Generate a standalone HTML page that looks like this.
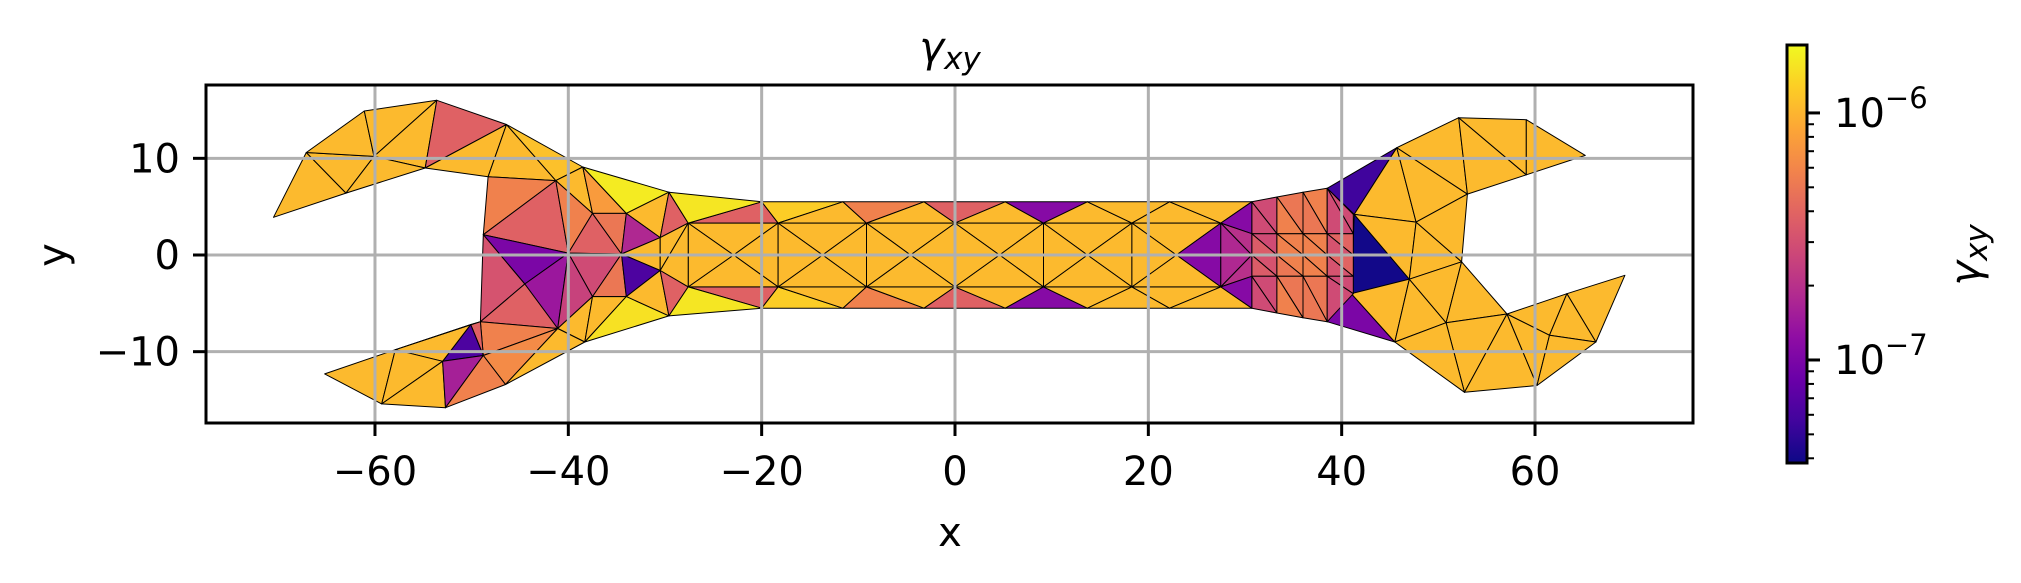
<!DOCTYPE html>
<html><head><meta charset="utf-8"><style>
html,body{margin:0;padding:0;background:#fff;}
svg{display:block;font-family:"DejaVu Sans","Liberation Sans",sans-serif;}
</style></head><body>
<svg id="chart" width="2021" height="583" viewBox="0 0 2021 583" xmlns="http://www.w3.org/2000/svg">
<defs>
<linearGradient id="plasma" x1="0" y1="1" x2="0" y2="0">
<stop offset="0" stop-color="#0d0887"/><stop offset="0.1" stop-color="#41049d"/><stop offset="0.2" stop-color="#6a00a8"/><stop offset="0.3" stop-color="#8f0da4"/><stop offset="0.4" stop-color="#b12a90"/><stop offset="0.5" stop-color="#cc4778"/><stop offset="0.6" stop-color="#e16462"/><stop offset="0.7" stop-color="#f2844b"/><stop offset="0.8" stop-color="#fca636"/><stop offset="0.9" stop-color="#fcce25"/><stop offset="1" stop-color="#f0f921"/>
</linearGradient>
<clipPath id="axclip"><rect x="206" y="85" width="1487" height="338"/></clipPath>
</defs>
<g id="mesh" clip-path="url(#axclip)"></g>
<g id="grid"></g>
<rect x="206" y="85" width="1487" height="338" fill="none" stroke="#000" stroke-width="3"/>
<g id="ticks"></g>
<text x="950" y="62" font-size="42" text-anchor="middle" font-style="italic">γ<tspan font-size="31" dy="7">xy</tspan></text>
<text x="950" y="546" font-size="40" text-anchor="middle">x</text>
<text x="0" y="0" font-size="40" text-anchor="middle" transform="translate(66,255) rotate(-90)">y</text>
<rect x="1787" y="45" width="20" height="418" fill="url(#plasma)" stroke="#000" stroke-width="3"/>
<g id="cbticks"></g>
<text x="0" y="0" font-size="42" text-anchor="middle" font-style="italic" transform="translate(1980,255) rotate(-90)">γ<tspan font-size="31" dy="7">xy</tspan></text>
</svg>
<script>
// ---- data ----
const xTicks = [-60,-40,-20,0,20,40,60];
const yTicks = [-10,0,10];
const cbMajor = [-7,-6];
const cbMinor = [4e-8,5e-8,6e-8,7e-8,8e-8,9e-8,2e-7,3e-7,4e-7,5e-7,6e-7,7e-7,8e-7,9e-7];
const cbRange = [-7.417,-5.725];
// handle grid
const handleTop = [-20,-11.6,-3.2,5.2,13.7,22.2,30.7];
const handleMid = [-27.6,-18.3,-9.15,0,9.15,18.3,27.5];
const handleCtr = [-22.9,-13.7,-4.6,4.6,13.7,22.9];
const handleY = [5.5,3.3,0];
const topStripVals = [-6.42,-5.9,-5.98,-6.25,-5.98,-6.42,-5.98,-6.95,-5.98,-5.98,-5.98,-5.98];
const botStripVals = [-6.42,-5.9,-5.98,-6.25,-5.98,-6.42,-5.98,-6.95,-5.98,-5.98,-5.98,-5.98];
const innerVals = [-5.98,-5.98,-5.98,-5.98, -5.98,-5.98,-5.98,-5.98, -5.98,-5.98,-5.98,-5.98, -5.98,-5.98,-5.98,-5.98, -5.98,-5.98,-5.98,-5.98, -5.98,-6.95,-5.98,-5.98];
// head vertices (data coords)
const verts = {
 A:[-70.5,3.9],B:[-67.1,10.6],C:[-61.1,14.9],D:[-53.6,16.0],E:[-46.4,13.5],F:[-38.5,9.1],G:[-29.6,6.5],
 I:[-60.1,10.2],P1:[-54.8,9.0],K:[-63.0,6.4],M:[-48.3,8.1],N:[-41.3,7.7],O:[-48.8,2.1],Q:[-37.5,4.3],R:[-34.0,4.3],
 S:[-30.5,1.8],V:[-40.0,0.2],W:[-34.5,0.1],X:[-30.5,-1.6],Z:[-34.0,-4.3],a:[-37.5,-4.3],b:[-44.5,-3.0],c:[-41.1,-7.6],
 d:[-49.1,-6.9],e:[-38.3,-9.0],f:[-29.6,-6.3],h:[-50.1,-7.2],i:[-57.9,-9.8],j:[-53.0,-11.0],k:[-48.8,-10.4],
 l:[-46.5,-13.4],m:[-52.7,-15.8],n:[-59.3,-15.4],o:[-65.2,-12.3],
 R2:[45.7,11.1],R3:[52.1,14.2],R4:[59.1,14.0],R5:[65.2,10.3],R6:[59.1,8.3],R7:[53.0,6.3],R8:[41.3,4.2],R9:[47.7,3.4],
 R10:[52.4,-0.7],R11:[47.0,-2.5],R12:[41.0,-4.0],R14:[45.5,-9.0],R15:[50.8,-7.0],R16:[57.1,-6.1],R17:[52.7,-14.2],
 R18:[60.2,-13.5],R19:[66.3,-9.0],R20:[69.3,-2.1],R21:[63.3,-4.0],R22:[61.5,-8.3],
 R1:[38.5,6.9],R13:[38.5,-6.9]
};
const headTris = ["A B K","B I K","B C I","C D I","I D P1","I P1 K","D E P1","P1 E M","E N M","E F N","F Q N","F R Q","F G R","G S R","G M0 S","G T0 M0",
 "M N O","O N V","N Q V","Q W V","Q R W","R S W","W S X","S M0 X","X M0 Mb0",
 "O V b","O b d","V c b","b c d","V W a","W Z a","W X Z","Z X f","X Mb0 f","Mb0 Tb0 f","V a c","a e c","a Z e","Z f e",
 "d c k","c l k","c e l","d k h","h k j","h j i","d h i","o i n","i j n","j m n","j k m","k l m",
 "R1 R2 R8","R8 R2 R9","R2 R7 R9","R2 R3 R7","R3 R6 R7","R3 R4 R6","R4 R5 R6","R8 R11 R12","R8 R9 R11","R9 R10 R11","R9 R7 R10",
 "R12 R13 R14","R12 R11 R14","R11 R15 R14","R11 R10 R15","R10 R16 R15","R15 R16 R17","R15 R17 R14","R16 R18 R17","R16 R22 R18","R16 R21 R22","R21 R20 R19","R21 R19 R22","R22 R19 R18"];
const headVals = [-5.98,-5.98,-5.98,-5.98,-5.98,-5.98,-6.42,-5.98,-5.98,-5.95,-5.98,-6.12,-5.78,-5.98,-6.42,-5.8,
 -6.25,-6.42,-6.25,-6.42,-6.3,-6.75,-5.98,-5.98,-5.98,
 -7.0,-6.5,-6.85,-6.42,-6.55,-6.3,-7.2,-5.98,-6.42,-5.8,-6.6,-5.98,-5.98,-5.82,
 -6.25,-6.2,-5.98,-6.42,-7.2,-5.98,-6.42,-5.98,-5.98,-5.98,-6.8,-6.25,
 -7.25,-5.98,-5.98,-5.98,-5.98,-5.98,-5.98,-7.4,-5.98,-5.98,-5.98,
 -7.0,-5.98,-5.98,-5.98,-5.98,-5.98,-5.98,-5.98,-5.98,-5.98,-5.98,-5.98,-5.98];
// right transition fine mesh
const midX = [30.7,33.3,36.0,38.5,41.2];
const midTop = [5.5,6.0,6.5,6.9,4.2];
const midBot = [-5.5,-6.0,-6.5,-6.9,-4.0];
const midRows = [2.2,0,-2.2];
const midVals = [-6.55,-6.55,-6.3,-6.25,-6.25,-6.3,-6.55,-6.55,
 -6.55,-6.45,-6.25,-6.25,-6.25,-6.25,-6.4,-6.5,
 -6.5,-6.45,-6.25,-6.3,-6.25,-6.25,-6.4,-6.5,
 -6.55,-6.55,-6.3,-6.25,-6.3,-6.3,-6.55,-6.55];
const transVals = [-6.95,-6.7,-6.75,-6.7,-6.95];

// ---- scales ----
const X = x => 955 + x*9.667;
const Y = y => 255 - y*9.667;
const stops = ["#0d0887","#41049d","#6a00a8","#8f0da4","#b12a90","#cc4778","#e16462","#f2844b","#fca636","#fcce25","#f0f921"];
function hex(h){return [1,3,5].map(i=>parseInt(h.substr(i,2),16));}
function plasma(v){
  let t=(v-cbRange[0])/(cbRange[1]-cbRange[0]); t=Math.max(0,Math.min(1,t));
  const p=t*10, i=Math.min(9,Math.floor(p)), f=p-i, a=hex(stops[i]), b=hex(stops[i+1]);
  return "rgb("+a.map((c,k)=>Math.round(c+(b[k]-c)*f)).join(",")+")";
}
const NS="http://www.w3.org/2000/svg";
const mesh=document.getElementById('mesh');
function tri(p,v,name){
  const el=document.createElementNS(NS,'polygon');
  el.setAttribute('points',p.map(q=>X(q[0]).toFixed(1)+","+Y(q[1]).toFixed(1)).join(" "));
  el.setAttribute('fill',plasma(v));
  el.setAttribute('stroke','#000');
  el.setAttribute('stroke-width','1');
  el.setAttribute('stroke-linejoin','round');
  
  
  mesh.appendChild(el);
}
handleMid.forEach((x,i)=>{verts['M'+i]=[x,handleY[1]];verts['Mb'+i]=[x,-handleY[1]];});
handleTop.forEach((x,i)=>{verts['T'+i]=[x,handleY[0]];verts['Tb'+i]=[x,-handleY[0]];});
const zig=[],zigB=[];
for(let i=0;i<handleMid.length;i++){zig.push('M'+i);zig.push('T'+i);zigB.push('Mb'+i);zigB.push('Tb'+i);}
for(let k=0;k<zig.length-2;k++){
  tri([verts[zig[k]],verts[zig[k+1]],verts[zig[k+2]]],topStripVals[k],'handle-top-element');
  tri([verts[zigB[k]],verts[zigB[k+1]],verts[zigB[k+2]]],botStripVals[k],'handle-bottom-element');
}
handleCtr.forEach((cx,i)=>{
  const c=[cx,handleY[2]], a=verts['M'+i], b=verts['M'+(i+1)], ab=verts['Mb'+i], bb=verts['Mb'+(i+1)];
  tri([a,b,c],innerVals[i*4],'handle-inner-element');
  tri([b,bb,c],innerVals[i*4+1],'handle-inner-element');
  tri([ab,bb,c],innerVals[i*4+2],'handle-inner-element');
  tri([a,ab,c],innerVals[i*4+3],'handle-inner-element');
});
headTris.forEach((s,k)=>tri(s.split(" ").map(n=>verts[n]),headVals[k],'head-element'));
const col=i=>[[midX[i],midTop[i]],...midRows.map(y=>[midX[i],y]),[midX[i],midBot[i]]];
for(let i=0;i<midX.length-1;i++){
  const L=col(i),R=col(i+1);
  for(let j=0;j<4;j++){
    tri([L[j],R[j],R[j+1]],midVals[j*8+i*2],'transition-element');
    tri([L[j],R[j+1],L[j+1]],midVals[j*8+i*2+1],'transition-element');
  }
}
{const c0=col(0), m=verts['M6'], mb=verts['Mb6'];
 tri([m,c0[0],c0[1]],transVals[0],'transition-element');
 tri([m,c0[1],c0[2]],transVals[1],'transition-element');
 tri([m,c0[2],mb],transVals[2],'transition-element');
 tri([mb,c0[2],c0[3]],transVals[3],'transition-element');
 tri([mb,c0[3],c0[4]],transVals[4],'transition-element');}

const grid=document.getElementById('grid'), ticks=document.getElementById('ticks');
function line(g,x1,y1,x2,y2,stroke,w,name){
  const el=document.createElementNS(NS,'line');
  el.setAttribute('x1',x1);el.setAttribute('y1',y1);el.setAttribute('x2',x2);el.setAttribute('y2',y2);
  el.setAttribute('stroke',stroke);el.setAttribute('stroke-width',w);
  
  
  g.appendChild(el);
}
function text(g,x,y,s,anchor,name,size){
  const el=document.createElementNS(NS,'text');
  el.setAttribute('x',x);el.setAttribute('y',y);el.setAttribute('font-size',size||40);el.setAttribute('text-anchor',anchor);
  el.textContent=s;
  
  
  g.appendChild(el); return el;
}
xTicks.forEach(v=>{
  line(grid,X(v),85,X(v),423,'#b0b0b0',3,'x-gridline');
  line(ticks,X(v),423,X(v),436,'#000',3,'x-tick');
  text(ticks,X(v),485,(v<0?'\u2212':'')+Math.abs(v),'middle','x-tick-label');
});
yTicks.forEach(v=>{
  line(grid,206,Y(v),1693,Y(v),'#b0b0b0',3,'y-gridline');
  line(ticks,193,Y(v),206,Y(v),'#000',3,'y-tick');
  text(ticks,180,Y(v)+14,(v<0?'\u2212':'')+Math.abs(v),'end','y-tick-label');
});
const cb=document.getElementById('cbticks');
const CBY=v=>463-(v-cbRange[0])/(cbRange[1]-cbRange[0])*418;
cbMajor.forEach(e=>{
  const y=CBY(e);
  line(cb,1807,y,1820,y,'#000',3,'colorbar-major-tick');
  const t=text(cb,1834,y+14,'10','start','colorbar-tick-label');
  const sp=document.createElementNS(NS,'tspan');
  sp.setAttribute('font-size','29');sp.setAttribute('dy','-19');
  sp.textContent='\u2212'+Math.abs(e);
  t.appendChild(sp);
});
cbMinor.forEach(v=>{const y=CBY(Math.log10(v)); line(cb,1807,y,1814,y,'#000',2,'colorbar-minor-tick');});
</script>
</body></html>
